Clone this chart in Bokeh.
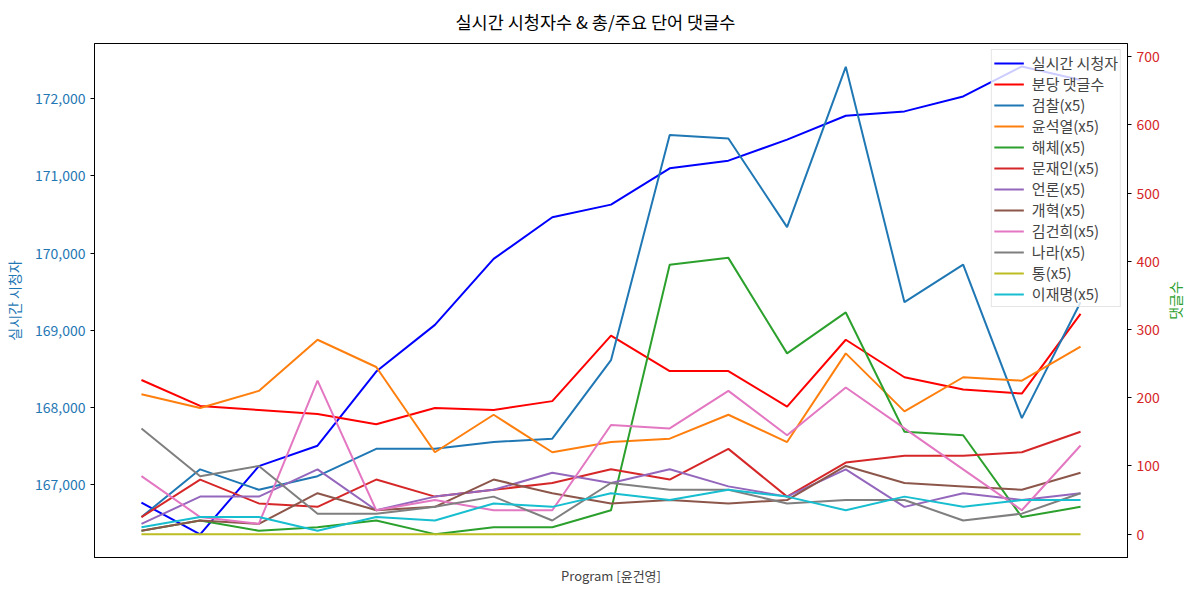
import math
from bokeh.plotting import figure
from bokeh.layouts import row
from bokeh.models import (Range1d, LinearAxis, FixedTicker, NumeralTickFormatter, Legend,
                          LegendItem, Title)
from bokeh.embed import file_html
from bokeh.resources import INLINE

FONT = "Noto Sans CJK KR"

x_idx = list(range(17))

viewers = [166770, 166360, 167243, 167507, 168468, 169072, 169926, 170465, 170629,
           171099, 171198, 171470, 171780, 171836, 172030, 172418, 172242]
comments_per_min = [226, 188, 182, 176, 161, 185, 182, 195, 291, 239, 239, 187, 285,
                    230, 212, 206, 323]

kw_names = ["검찰(x5)", "윤석열(x5)", "해체(x5)", "문재인(x5)", "언론(x5)", "개혁(x5)",
            "김건희(x5)", "나라(x5)", "통(x5)", "이재명(x5)"]
kw_colors = ["#1f77b4", "#ff7f0e", "#2ca02c", "#d62728", "#9467bd", "#8c564b",
             "#e377c2", "#7f7f7f", "#bcbd22", "#17becf"]

kw_검찰 = [25, 95, 65, 85, 125, 125, 135, 140, 255, 585, 580, 450, 685, 340, 395, 170, 340]
kw_윤석열 = [205, 185, 210, 285, 245, 120, 175, 120, 135, 140, 175, 135, 265, 180, 230, 225, 275]
kw_해체 = [5, 20, 5, 10, 20, 0, 10, 10, 35, 395, 405, 265, 325, 150, 145, 25, 40]
kw_문재인 = [25, 80, 45, 40, 80, 55, 65, 75, 95, 80, 125, 55, 105, 115, 115, 120, 150]
kw_언론 = [15, 55, 55, 95, 35, 55, 65, 90, 75, 95, 70, 55, 95, 40, 60, 50, 60]
kw_개혁 = [5, 20, 15, 60, 35, 40, 80, 60, 45, 50, 45, 50, 100, 75, 70, 65, 90]
kw_김건희 = [85, 25, 15, 225, 35, 50, 35, 35, 160, 155, 210, 145, 215, 155, 95, 35, 130]
kw_나라 = [155, 85, 100, 30, 30, 40, 55, 20, 75, 65, 65, 45, 50, 50, 20, 30, 60]
kw_통 = [0, 0, 0, 0, 0, 0, 0, 0, 0, 0, 0, 0, 0, 0, 0, 0, 0]
kw_이재명 = [10, 25, 25, 5, 25, 20, 45, 40, 60, 50, 65, 55, 35, 55, 40, 50, 50]

kw_values = [kw_검찰, kw_윤석열, kw_해체, kw_문재인, kw_언론, kw_개혁,
             kw_김건희, kw_나라, kw_통, kw_이재명]

p = figure(frame_width=1033, frame_height=514,
           x_range=Range1d(-0.8, 16.8), y_range=Range1d(166060, 172715),
           output_backend="svg", toolbar_location=None,
           min_border_left=93, min_border_right=30, min_border_top=43, min_border_bottom=35,
           background_fill_color="white", border_fill_color="white")

p.title.text = "실시간 시청자수 & 총/주요 단어 댓글수"
p.title.align = "left"
p.title.offset = 361
p.title.vertical_align = "top"
p.title.text_font = FONT
p.title.text_font_size = "17.5px"
p.title.text_font_style = "normal"
p.title.text_color = "black"
p.title.standoff = 16

p.grid.visible = False
p.outline_line_color = "black"
p.outline_line_width = 1

p.extra_y_ranges = {"c": Range1d(-34.25, 719.25)}

# x axis
xa = p.xaxis[0]
xa.ticker = FixedTicker(ticks=[])
xa.major_tick_out = 0
xa.minor_tick_out = 0
xa.axis_label = "Program [윤건영]"
xa.axis_label_text_font = FONT
xa.axis_label_text_font_size = "13px"
xa.axis_label_text_font_style = "normal"
xa.axis_label_standoff = 8
xa.axis_line_color = "black"

# left axis
ya = p.yaxis[0]
ya.ticker = FixedTicker(ticks=[167000, 168000, 169000, 170000, 171000, 172000])
ya.formatter = NumeralTickFormatter(format="0,0")
ya.major_label_text_color = "#1f77b4"
ya.major_label_text_font = FONT
ya.major_label_text_font_size = "14px"
ya.major_tick_out = 4
ya.major_tick_in = 0
ya.minor_tick_out = 0
ya.minor_tick_in = 0
ya.axis_label = "실시간 시청자"
ya.axis_label_text_color = "#1f77b4"
ya.axis_label_text_font = FONT
ya.axis_label_text_font_size = "14px"
ya.axis_label_text_font_style = "normal"
ya.axis_label_standoff = 8

# right axis (comment counts)
ra = LinearAxis(y_range_name="c", ticker=FixedTicker(ticks=[0, 100, 200, 300, 400, 500, 600, 700]))
ra.major_label_text_color = "#d62728"
ra.major_label_text_font = FONT
ra.major_label_text_font_size = "14px"
ra.major_tick_out = 4
ra.major_tick_in = 0
ra.minor_tick_out = 0
ra.minor_tick_in = 0
p.add_layout(ra, "right")

items = []
r = p.line(x_idx, viewers, line_color="blue", line_width=2)
items.append(LegendItem(label="실시간 시청자", renderers=[r]))
r = p.line(x_idx, comments_per_min, line_color="red", line_width=2, y_range_name="c")
items.append(LegendItem(label="분당 댓글수", renderers=[r]))
for name, col, vals in zip(kw_names, kw_colors, kw_values):
    r = p.line(x_idx, vals, line_color=col, line_width=2, y_range_name="c")
    items.append(LegendItem(label=name, renderers=[r]))

legend = Legend(items=items, location="top_right")
legend.label_text_font = FONT
legend.label_text_font_size = "15px"
legend.glyph_width = 30
legend.glyph_height = 14
legend.label_height = 14
legend.label_standoff = 8
legend.spacing = 0
legend.padding = 2
legend.margin = 6
legend.border_line_color = "#cccccc"
legend.border_line_width = 1
legend.background_fill_color = "white"
legend.background_fill_alpha = 0.8
p.add_layout(legend)

# narrow strip to the right carrying the right-axis label, read bottom-to-top
p2 = figure(frame_width=1, frame_height=514, x_axis_location=None, y_axis_location=None,
            output_backend="svg", toolbar_location=None,
            min_border_left=22, min_border_right=5, min_border_top=43, min_border_bottom=35,
            background_fill_color="white", border_fill_color="white",
            outline_line_color=None)
p2.grid.visible = False
p2.add_layout(Title(text="댓글수", align="center", text_font=FONT, text_font_size="14px",
                    text_font_style="normal", text_color="#2ca02c", standoff=0), "left")

layout = row(p, p2, spacing=0)

open("out.html", "w").write(file_html(layout, INLINE))
